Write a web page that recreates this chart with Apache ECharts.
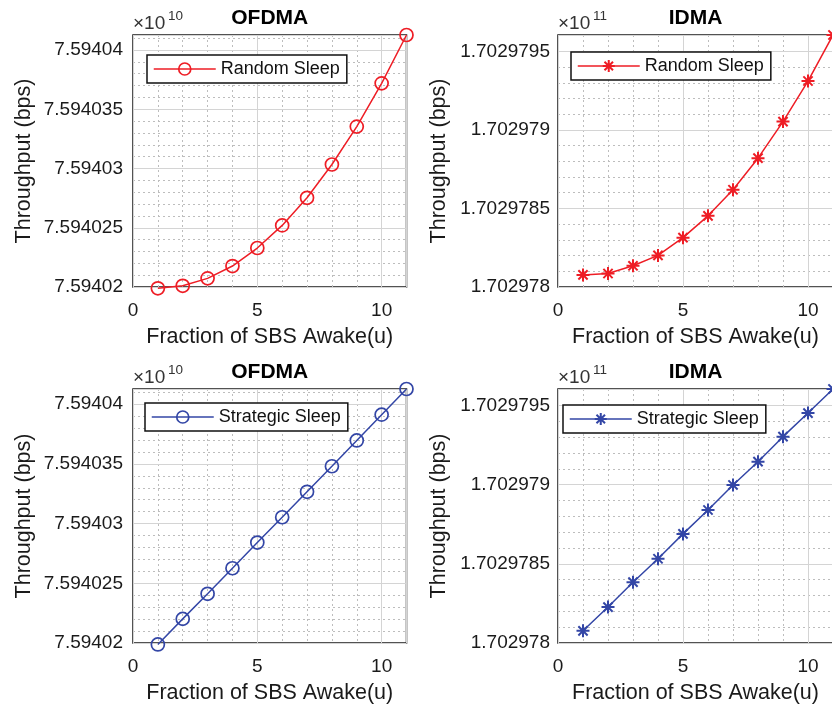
<!DOCTYPE html>
<html>
<head>
<meta charset="utf-8">
<title>Throughput vs fraction of SBS awake</title>
<script src="https://cdn.jsdelivr.net/npm/echarts@6/dist/echarts.min.js"></script>
<style>
    html, body { margin: 0; padding: 0; background: #fff; }
    #chart { width: 832px; height: 709px; }
</style>
</head>
<body>
<div id="chart"></div>
<script>
// fraction of SBS awake (u)
const awake = [1, 2, 3, 4, 5, 6, 7, 8, 9, 10, 11];
const xTicks = [0, 5, 10];

// throughput in bps
const ofdmaRandom = [75940198900, 75940201000, 75940207300, 75940217700, 75940232900, 75940252000,
    75940275300, 75940303400, 75940335400, 75940371900, 75940412700];
const ofdmaStrategic = [75940198800, 75940220200, 75940241200, 75940262600, 75940284100, 75940305300,
    75940326600, 75940348000, 75940369600, 75940391200, 75940412700];
const idmaRandom = [170297807700, 170297808600, 170297813500, 170297820100, 170297831400, 170297845300,
    170297861900, 170297882000, 170297905300, 170297931100, 170297960400];
const idmaStrategic = [170297807700, 170297822700, 170297838400, 170297853200, 170297868900, 170297884000,
    170297899800, 170297914500, 170297930300, 170297945200, 170297960400];

// y tick values (shown as value / 10^exp)
const ofdmaTicks = [75940200000, 75940250000, 75940300000, 75940350000, 75940400000];
const idmaTicks = [170297800000, 170297850000, 170297900000, 170297950000];

const RED = "#ee1d25";
const BLUE = "#3346a6";
const FONT = "Liberation Sans, Arial, sans-serif";
const ASTERISK = "path://M0,-10L0,10M-10,0L10,0M-7.1,-7.1L7.1,7.1M-7.1,7.1L7.1,-7.1";

const panels = [
    { id: "ofdmaRandom", title: "OFDMA", label: "Random Sleep", data: ofdmaRandom, ticks: ofdmaTicks, exp: 10,
      color: RED, symbol: "circle", left: 133, top: 35, width: 273.5, height: 252, legend: [147, 55], labelMargin: 10, yNameGap: 98 },
    { id: "idmaRandom", title: "IDMA", label: "Random Sleep", data: idmaRandom, ticks: idmaTicks, exp: 11,
      color: RED, symbol: ASTERISK, left: 558, top: 35, width: 275, height: 252, legend: [571, 52], labelMargin: 8, yNameGap: 108 },
    { id: "ofdmaStrategic", title: "OFDMA", label: "Strategic Sleep", data: ofdmaStrategic, ticks: ofdmaTicks, exp: 10,
      color: BLUE, symbol: "circle", left: 133, top: 389, width: 273.5, height: 254, legend: [145, 403], labelMargin: 10, yNameGap: 98 },
    { id: "idmaStrategic", title: "IDMA", label: "Strategic Sleep", data: idmaStrategic, ticks: idmaTicks, exp: 11,
      color: BLUE, symbol: ASTERISK, left: 558, top: 389, width: 275, height: 254, legend: [563, 405], labelMargin: 8, yNameGap: 108 },
];

const option = {
    animation: false,
    grid: [],
    xAxis: [],
    yAxis: [],
    series: [],
    legend: [],
    graphic: [],
};

panels.forEach((p, i) => {
    const yMin = p.ticks[0];
    const yStep = p.ticks[1] - p.ticks[0];
    const yMax = Math.max(...p.data);
    const xStep = xTicks[1] - xTicks[0];
    const xMax = awake[awake.length - 1];
    const scale = Math.pow(10, p.exp);
    const star = p.symbol === ASTERISK;

    option.grid.push({
        left: p.left, top: p.top, width: p.width, height: p.height,
        outerBoundsMode: "none", containLabel: false,
        show: true, borderColor: "#1a1a1a", borderWidth: 1.5, backgroundColor: "transparent",
    });

    // minor dotted grid
    option.xAxis.push({
        gridIndex: i, type: "value", position: "bottom", min: 0, max: xMax, interval: 1,
        axisLine: { show: false }, axisTick: { show: false }, axisLabel: { show: false },
        splitLine: { lineStyle: { color: "#bdbdbd", type: [2, 3], width: 1 } },
    });
    option.yAxis.push({
        gridIndex: i, type: "value", position: "left", min: yMin, max: yMax, interval: yStep / 5,
        axisLine: { show: false }, axisTick: { show: false }, axisLabel: { show: false },
        splitLine: { lineStyle: { color: "#bdbdbd", type: [2, 3], width: 1 } },
    });

    // major grid, labels and names
    option.xAxis.push({
        gridIndex: i, type: "value", position: "bottom", min: 0, max: xMax, interval: xStep, z: 1,
        name: "Fraction of SBS Awake(u)", nameLocation: "middle", nameGap: 39,
        nameMoveOverlap: false,
        nameTextStyle: { fontSize: 21.5, color: "#1a1a1a", fontFamily: FONT },
        axisLine: { show: false }, axisTick: { show: false },
        axisLabel: { fontSize: 19, color: "#1a1a1a", fontFamily: FONT, margin: 14, showMaxLabel: false },
        splitLine: { lineStyle: { color: "#d4d4d4", width: 1 } },
    });
    option.yAxis.push({
        gridIndex: i, type: "value", position: "left", min: yMin, max: yMax, interval: yStep, z: 1,
        name: "Throughput (bps)", nameLocation: "middle", nameGap: p.yNameGap,
        nameMoveOverlap: false,
        nameTextStyle: { fontSize: 21.5, color: "#1a1a1a", fontFamily: FONT },
        axisLine: { show: false }, axisTick: { show: false },
        axisLabel: {
            fontSize: 19, color: "#1a1a1a", fontFamily: FONT, margin: p.labelMargin, showMaxLabel: false,
            formatter: (v) => (v / scale).toFixed(p.exp - 3).replace(/0+$/, "").replace(/\.$/, ""),
        },
        splitLine: { lineStyle: { color: "#d4d4d4", width: 1 } },
    });

    option.series.push({
        name: p.id,
        type: "line",
        xAxisIndex: 2 * i + 1,
        yAxisIndex: 2 * i + 1,
        data: awake.map((x, k) => [x, p.data[k]]),
        color: p.color,
        symbol: p.symbol,
        symbolSize: 13,
        clip: false,
        silent: true,
        lineStyle: { color: p.color, width: 1.5 },
        itemStyle: { color: "rgba(0,0,0,0)", borderColor: p.color, borderWidth: star ? 2 : 1.7 },
        emphasis: { disabled: true },
    });

    option.legend.push({
        data: [p.id],
        formatter: () => p.label,
        left: p.legend[0], top: p.legend[1],
        orient: "vertical",
        selectedMode: false,
        backgroundColor: "#fff",
        borderColor: "#111",
        borderWidth: 1.5,
        borderRadius: 0,
        padding: [5, 7, 5, 6],
        itemWidth: 62,
        itemHeight: 15,
        itemStyle: { borderWidth: star ? 2 : 1.7 },
        lineStyle: { width: 1.5 },
        textStyle: { fontSize: 18, color: "#111", fontFamily: FONT },
    });

    // title and the x10^n multiplier
    option.graphic.push(
        {
            type: "text", x: p.left + p.width / 2, y: p.top - 17, silent: true,
            style: { text: p.title, font: "bold 21px " + FONT, fill: "#000", align: "center", verticalAlign: "middle" },
        },
        {
            type: "text", x: p.left, y: p.top - 11, silent: true,
            style: { text: "\u00d710", font: "19px " + FONT, fill: "#333", align: "left", verticalAlign: "middle" },
        },
        {
            type: "text", x: p.left + 35, y: p.top - 19, silent: true,
            style: { text: String(p.exp), font: "13.5px " + FONT, fill: "#333", align: "left", verticalAlign: "middle" },
        }
    );
});

const chart = echarts.init(document.getElementById("chart"));
chart.setOption(option);
</script>
</body>
</html>
